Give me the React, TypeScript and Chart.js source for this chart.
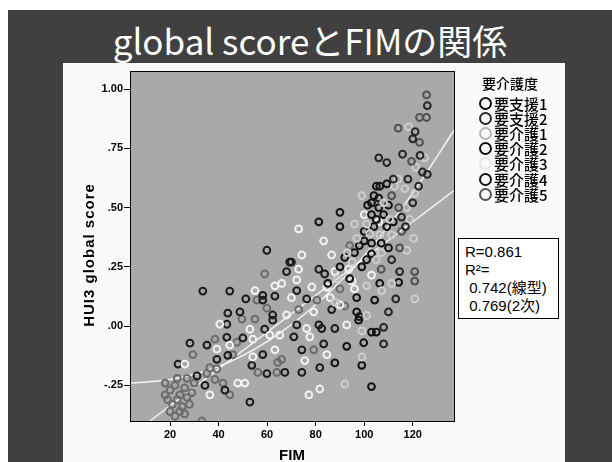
import React, { useEffect, useRef } from "react";
import { Chart, registerables } from "chart.js";
Chart.register(...registerables);

type P = [number, number];

const GROUPS = ["要支援1", "要支援2", "要介護1", "要介護2", "要介護3", "要介護4", "要介護5"];
const GROUP_COLORS = ["#262626", "#505050", "#cdcdcd", "#121212", "#f2f2f2", "#1c1c1c", "#6c6c6c"];
const LEGEND_COLORS = ["#111111", "#2a2a2a", "#b8b8b8", "#111111", "#e6e6e6", "#161616", "#555555"];

const SHIEN1: P[] = [
  [126, 0.93], [121, 0.82], [120, 0.79], [115.8, 0.725], [124, 0.65], [126, 0.64], [122.4, 0.59],
  [120, 0.52], [115.4, 0.46], [106, 0.71], [109.3, 0.69], [113, 0.115], [114.6, 0.23], [111.3, 0.28],
  [110, 0.06], [108, -0.075], [108, -0.005], [118, 0.62], [123, 0.72], [112, 0.62], [117, 0.42],
];
const SHIEN2: P[] = [
  [125.7, 0.975], [122.8, 0.88], [125.7, 0.88], [122.8, 0.775], [119.5, 0.695], [114.6, 0.33],
  [120.8, 0.23], [120.8, 0.19], [114.2, 0.5], [111.3, 0.55], [115.4, 0.4], [107, 0.24], [114, 0.835],
];
const KAIGO1: P[] = [
  [118.3, 0.84], [124.9, 0.71], [121.2, 0.67], [112.5, 0.59], [116.7, 0.58], [120.8, 0.56], [117.5, 0.5],
  [118.7, 0.45], [120.4, 0.37], [117.5, 0.32], [120.8, 0.115], [111.3, 0.18], [110.5, 0.45], [107, 0.31],
  [111.3, 0.385], [106.4, 0.385], [102.3, 0.39], [101, 0.43], [96, 0.43], [99, 0.55], [107.2, 0.15],
  [101, 0.045], [101, 0.17], [99, -0.02], [99, -0.13], [92, -0.245], [95, 0.27], [89, 0.2],
  [114, 0.62], [108, 0.52], [105, 0.28], [97, 0.37], [93, 0.31], [88, 0.1],
];
const KAIGO2: P[] = [
  [105, 0.59], [106.4, 0.59], [109.3, 0.6], [104, 0.55], [106, 0.54], [101.4, 0.51], [103, 0.52],
  [106, 0.5], [110, 0.51], [103, 0.47], [105, 0.45], [90, 0.48], [81.3, 0.44], [90, 0.42], [109.3, 0.42],
  [103, 0.35], [107, 0.35], [96, 0.31], [103, 0.305], [99, 0.25], [106.4, 0.18], [114.2, 0.185],
  [104.3, 0.11], [96.9, 0.12], [96.9, 0.06], [98, 0.04], [97.7, 0.025], [103, -0.025], [105, -0.025],
  [99.8, -0.07], [99, -0.165], [103, -0.255], [92.8, -0.085], [87.9, -0.155], [100, 0.36], [92, 0.29],
  [108, 0.47], [112, 0.44], [100, 0.4], [104, 0.42], [98, 0.34], [110, 0.33], [101, 0.28], [94, 0.2],
  [90, 0.25], [85, 0.18],
];
const KAIGO3: P[] = [
  [73, 0.41], [83.3, 0.36], [74.3, 0.3], [86.6, 0.3], [73, 0.24], [87.9, 0.23], [93.6, 0.24], [103, 0.215],
  [72.2, 0.195], [78.4, 0.165], [84.6, 0.165], [96, 0.157], [90, 0.09], [79.2, 0.06], [92.8, 0.005],
  [76.3, -0.01], [77.6, -0.045], [84.6, -0.12], [75.5, -0.145], [81.7, -0.265], [77.2, -0.29], [63.2, 0.17],
  [66, 0.18], [55, 0.15], [68, 0.047], [40.5, 0.008], [52.9, -0.013], [54.1, -0.055], [61.1, -0.038],
  [65.2, -0.038], [44.6, -0.08], [39.3, -0.097], [54.1, -0.13], [63.2, -0.1], [26.1, -0.16], [47.9, -0.24],
  [50.8, -0.24], [36.4, -0.29], [70, 0.12], [86, 0.12], [100, 0.47], [106, 0.44], [95, 0.19],
];
const KAIGO4: P[] = [
  [59.9, 0.32], [69.3, 0.27], [68, 0.23], [70, 0.27], [81.3, 0.24], [83.7, 0.22], [72.2, 0.15], [76.3, 0.115],
  [86.6, 0.07], [72.2, 0.005], [81.3, 0.005], [82.5, -0.01], [87.9, -0.01], [71, -0.045], [83.3, -0.075],
  [74.3, -0.1], [81.7, -0.175], [74.3, -0.195], [33.5, 0.148], [44.6, 0.148], [51.2, 0.115], [58.2, 0.13],
  [58.2, 0.11], [63.2, 0.127], [43.8, 0.055], [48.8, 0.06], [62.3, 0.047], [62.3, 0.025], [43.4, 0.008],
  [59, -0.013], [43.4, -0.047], [50, -0.05], [28.2, -0.072], [35.2, -0.08], [39.3, -0.14], [43.8, -0.123],
  [58.2, -0.12], [23.3, -0.16], [53.7, -0.165], [59.9, -0.2], [67.3, -0.195], [31.1, -0.21], [34.4, -0.25],
  [42.6, -0.27], [52.9, -0.32],
];
const KAIGO5: P[] = [
  [73, 0.07], [80.5, 0.11], [92, 0.085], [90, 0.157], [79.2, -0.1], [59, 0.22], [55.8, 0.11], [49.6, 0.03],
  [55, 0.03], [59.9, 0.076], [47.5, -0.068], [38.5, -0.055], [45.9, -0.12], [66, -0.14], [64.4, -0.153],
  [29.4, -0.12], [36.4, -0.175], [39.3, -0.18], [56.2, -0.195], [64, -0.195], [35.2, -0.2], [38.5, -0.225],
  [41.8, -0.24], [44.6, -0.29], [33.1, -0.4], [94, 0.34], [18, -0.24], [20, -0.27], [22, -0.25], [24, -0.29],
  [19, -0.31], [21, -0.33], [23, -0.31], [25, -0.34], [27, -0.3], [26, -0.26], [28, -0.33], [20, -0.36],
  [22, -0.38], [24, -0.36], [26, -0.37], [29, -0.28], [30, -0.24], [18, -0.29], [27, -0.22], [23, -0.22],
];
const GROUP_DATA: P[][] = [SHIEN1, SHIEN2, KAIGO1, KAIGO2, KAIGO3, KAIGO4, KAIGO5];

const LINEAR_FIT: P[] = [[11.7, -0.4], [137, 0.572]];
const QUAD_FIT: P[] = [
  [3.5, -0.24], [20, -0.225], [40, -0.17], [60, -0.065], [80, 0.09], [100, 0.297], [120, 0.561], [137, 0.826],
];

const X_TICKS = [20, 40, 60, 80, 100, 120];
const Y_TICKS = [1, 0.75, 0.5, 0.25, 0, -0.25];
const X_RANGE = [3.5, 137];
const Y_RANGE = [-0.4, 1.076];

const TITLE = "global scoreとFIMの関係";
const LEGEND_TITLE = "要介護度";
const X_TITLE = "FIM";
const Y_TITLE = "HUI3 global score";
const STATS = ["R=0.861", "R²=", " 0.742(線型)", " 0.769(2次)"];

const fmtY = (v: number) => v.toFixed(2).replace(/^(-?)0\./, "$1.");

const plotFrame = {
  id: "plotFrame",
  beforeDatasetsDraw(chart: any) {
    const { ctx, chartArea: a } = chart;
    ctx.save();
    ctx.fillStyle = "#a9a9a9";
    ctx.fillRect(a.left, a.top, a.right - a.left, a.bottom - a.top);
    ctx.restore();
  },
  afterDraw(chart: any) {
    const { ctx, chartArea: a } = chart;
    ctx.save();
    ctx.strokeStyle = "#000";
    ctx.lineWidth = 1;
    ctx.strokeRect(Math.round(a.left) + 0.5, Math.round(a.top) + 0.5, Math.round(a.right - a.left), Math.round(a.bottom - a.top));
    ctx.restore();
    // rotated y-axis title, slightly letter-spaced as in the scan
    ctx.save();
    ctx.font = "bold 15px 'Liberation Sans', Arial, sans-serif";
    try { (ctx as any).letterSpacing = "1px"; } catch (e) {}
    ctx.fillStyle = "#000";
    ctx.translate(27, 192);
    ctx.rotate(-Math.PI / 2);
    ctx.textAlign = "center";
    ctx.textBaseline = "middle";
    ctx.fillText(Y_TITLE, 0, 0);
    ctx.restore();
  },
};

export default function App() {
  const ref = useRef<HTMLCanvasElement | null>(null);

  useEffect(() => {
    document.body.style.margin = "0";
    if (!ref.current) return;
    const scatterSets = GROUPS.map((g, i) => ({
      type: "scatter" as const,
      label: g,
      data: GROUP_DATA[i].map(([x, y]) => ({ x, y })),
      borderColor: GROUP_COLORS[i],
      backgroundColor: "rgba(0,0,0,0)",
      pointRadius: 3.4,
      pointBorderWidth: 2,
      pointStyle: "circle",
      showLine: false,
    }));
    const fitSets = [
      {
        type: "line" as const,
        label: "linear",
        data: LINEAR_FIT.map(([x, y]) => ({ x, y })),
        borderColor: "#f4f4f4",
        borderWidth: 1.5,
        pointRadius: 0,
        fill: false,
      },
      {
        type: "line" as const,
        label: "quadratic",
        data: QUAD_FIT.map(([x, y]) => ({ x, y })),
        borderColor: "#f4f4f4",
        borderWidth: 1.5,
        pointRadius: 0,
        fill: false,
        cubicInterpolationMode: "monotone" as const,
      },
    ];
    const tickFont = { family: "'Liberation Sans', Arial, sans-serif", size: 11, weight: "bold" as const };
    const chart = new Chart(ref.current, {
      type: "scatter",
      data: { datasets: [...scatterSets, ...fitSets] as any },
      options: {
        animation: false,
        responsive: false,
        maintainAspectRatio: false,
        devicePixelRatio: 1,
        layout: { padding: { left: 0, top: 8, right: 111, bottom: 0 } },
        plugins: { legend: { display: false }, tooltip: { enabled: false } },
        scales: {
          x: {
            type: "linear",
            min: X_RANGE[0],
            max: X_RANGE[1],
            afterBuildTicks: (s: any) => { s.ticks = X_TICKS.map((v) => ({ value: v })); },
            afterFit: (s: any) => { s.height = 41; },
            grid: { display: true, drawOnChartArea: false, drawTicks: true, tickLength: 5, color: "#000", lineWidth: 1 },
            border: { display: true, color: "#000" },
            ticks: { color: "#000", font: tickFont, padding: 2, maxRotation: 0, callback: (v: any) => String(v) },
            title: {
              display: true, text: X_TITLE, color: "#000",
              font: { family: "'Liberation Sans', Arial, sans-serif", size: 15, weight: "bold", lineHeight: 1 },
              padding: { top: 0, bottom: -1 },
            },
          },
          y: {
            type: "linear",
            min: Y_RANGE[0],
            max: Y_RANGE[1],
            afterBuildTicks: (s: any) => { s.ticks = Y_TICKS.map((v) => ({ value: v })); },
            afterFit: (s: any) => { s.width = 67; },
            grid: { display: true, drawOnChartArea: false, drawTicks: true, tickLength: 6, color: "#000", lineWidth: 1 },
            border: { display: true, color: "#000" },
            ticks: { color: "#000", font: tickFont, padding: 1, callback: (v: any) => fmtY(Number(v)) },
            title: { display: false },
          },
        },
      },
      plugins: [plotFrame],
    });
    return () => chart.destroy();
  }, []);

  return (
    <div style={{ position: "relative", width: 612, height: 462, background: "#fff", overflow: "hidden" }}>
      <div style={{ position: "absolute", left: 8, top: 10, right: 0, bottom: 0, background: "#404040" }} />
      <div
        style={{
          position: "absolute", left: 8, right: 0, top: 23, height: 34, lineHeight: "34px", textAlign: "center",
          color: "#fff", fontFamily: "'Noto Sans CJK JP', 'Noto Sans', sans-serif", fontSize: 35, whiteSpace: "nowrap",
        }}
      >
        {TITLE}
      </div>
      <div style={{ position: "absolute", left: 63, top: 63, width: 502, height: 399, background: "#fafafa" }} />
      <canvas ref={ref} width={502} height={399} style={{ position: "absolute", left: 63, top: 63, width: 502, height: 399 }} />
      <div
        style={{
          position: "absolute", left: 479, top: 74, width: 80, fontFamily: "'Noto Sans CJK JP', sans-serif",
          color: "#000", fontWeight: 500,
        }}
      >
        <div style={{ fontSize: 14, lineHeight: "18px", paddingLeft: 3, marginBottom: 3.5 }}>{LEGEND_TITLE}</div>
        {GROUPS.map((g, i) => (
          <div key={g} style={{ display: "flex", alignItems: "center", height: 15.2, fontSize: 15, lineHeight: "15px" }}>
            <span
              style={{
                display: "inline-block", width: 9, height: 9, borderRadius: "50%",
                border: `2px solid ${LEGEND_COLORS[i]}`, marginRight: 2, flex: "none",
              }}
            />
            <span>{g}</span>
          </div>
        ))}
      </div>
      <div
        style={{
          position: "absolute", left: 458, top: 238, width: 93, height: 75, border: "1px solid #000", background: "#fff",
          fontFamily: "'Liberation Sans', Arial, 'Noto Sans CJK JP', sans-serif", fontSize: 15, lineHeight: "18px",
          color: "#000", paddingTop: 4, paddingLeft: 6, boxSizing: "content-box", whiteSpace: "pre",
        }}
      >
        {STATS.map((s) => (
          <div key={s}>{s}</div>
        ))}
      </div>
    </div>
  );
}
